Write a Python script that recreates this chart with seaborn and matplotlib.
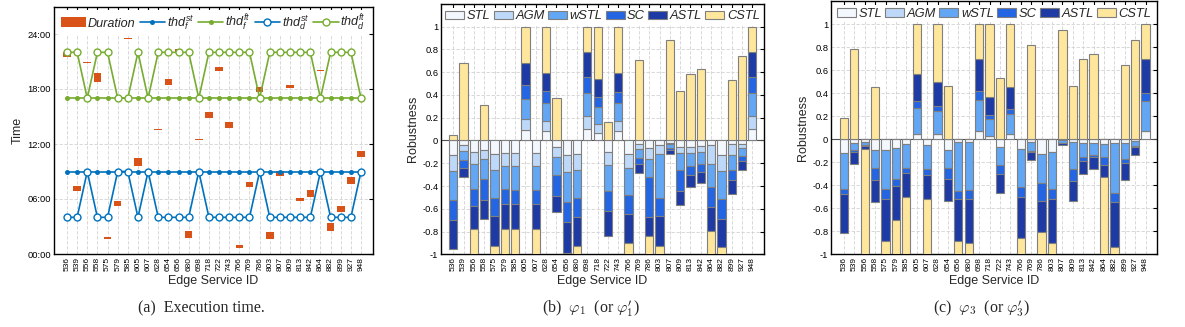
import numpy as np
import matplotlib
matplotlib.use("Agg")
import matplotlib.pyplot as plt
import seaborn as sns
from matplotlib.patches import Patch
from matplotlib.lines import Line2D
from matplotlib.ticker import FixedLocator, FuncFormatter

# ---------------------------------------------------------------- data
service_ids = ["536", "539", "556", "558", "575", "579", "585", "605", "607", "628",
               "654", "656", "680", "698", "718", "722", "743", "766", "769", "786",
               "803", "807", "809", "813", "842", "864", "882", "899", "927", "948"]

# thresholds (hours of day)
thd_f_st = [9, 9, 9, 9, 9, 9, 9, 9, 9, 9, 9, 9, 9, 9, 9,
            9, 9, 9, 9, 9, 9, 9, 9, 9, 9, 9, 9, 9, 9, 9]
thd_f_ft = [17, 17, 17, 17, 17, 17, 17, 17, 17, 17, 17, 17, 17, 17, 17,
            17, 17, 17, 17, 17, 17, 17, 17, 17, 17, 17, 17, 17, 17, 17]
thd_d_st = [4, 4, 9, 4, 4, 9, 9, 4, 9, 4, 4, 4, 4, 9, 4,
            4, 4, 4, 4, 9, 4, 4, 4, 4, 4, 9, 4, 4, 4, 9]
thd_d_ft = [22, 22, 17, 22, 22, 17, 17, 22, 17, 22, 22, 22, 22, 17, 22,
            22, 22, 22, 22, 17, 22, 22, 22, 22, 22, 17, 22, 22, 22, 17]

# execution intervals (start hour, end hour)
dur_start = [21.46, 6.87, 20.85, 18.80, 1.60, 5.20, 23.50, 9.60, 23.86, 13.50,
             18.47, 21.90, 1.75, 12.47, 14.80, 20.00, 13.75, 0.65, 7.30, 17.70,
             1.64, 8.47, 18.15, 5.78, 6.25, 19.93, 2.55, 4.55, 7.67, 10.55]
dur_end = [22.07, 7.45, 20.97, 19.70, 1.82, 5.81, 23.60, 10.44, 24.20, 13.60,
           19.05, 22.36, 2.50, 12.55, 15.46, 20.36, 14.36, 0.98, 7.85, 18.20,
           2.44, 9.09, 18.47, 6.15, 6.95, 20.10, 3.42, 5.27, 8.36, 11.24]

# robustness contributions, phi_1
p1_STL = [-0.130, -0.044, -0.105, -0.082, -0.123, -0.109, -0.114, 0.096, -0.114, 0.079,
          -0.060, -0.130, -0.120, 0.105, 0.070, -0.105, 0.079, -0.120, -0.030, -0.070,
          -0.040, -0.020, -0.056, -0.056, -0.050, -0.041, -0.126, -0.035, -0.032, 0.105]
p1_AGM = [-0.137, -0.046, -0.103, -0.085, -0.132, -0.114, -0.106, 0.097, -0.106, 0.088,
          -0.084, -0.146, -0.135, 0.111, 0.079, -0.112, 0.088, -0.126, -0.045, -0.092,
          -0.080, -0.015, -0.058, -0.052, -0.050, -0.170, -0.141, -0.094, -0.038, 0.111]
p1_wSTL = [-0.258, -0.083, -0.217, -0.170, -0.249, -0.205, -0.217, 0.173, -0.217, 0.158,
           -0.161, -0.264, -0.249, 0.202, 0.141, -0.226, 0.158, -0.237, -0.083, -0.158,
           -0.384, -0.030, -0.144, -0.118, -0.111, -0.202, -0.246, -0.129, -0.068, 0.202]
p1_SC = [-0.173, -0.067, -0.150, -0.185, -0.158, -0.132, -0.120, 0.123, -0.120, 0.111,
         -0.182, -0.175, -0.167, 0.141, 0.093, -0.175, 0.102, -0.167, -0.053, -0.351,
         -0.158, -0.020, -0.182, -0.073, -0.065, -0.170, -0.176, -0.085, -0.041, 0.141]
p1_ASTL = [-0.257, -0.080, -0.207, -0.170, -0.261, -0.222, -0.225, 0.193, -0.225, 0.161,
           -0.140, -0.275, -0.252, 0.220, 0.153, -0.217, 0.170, -0.255, -0.079, -0.167,
           -0.264, -0.035, -0.127, -0.114, -0.099, -0.208, -0.251, -0.129, -0.076, 0.220]
p1_CSTL = [0.045, 0.680, -0.218, 0.308, -0.077, -0.218, -0.218, 0.318, -0.218, 0.403,
           0.373, -0.010, -0.077, 0.221, 0.464, 0.165, 0.403, -0.095, 0.710, -0.162,
           -0.074, 0.880, 0.433, 0.587, 0.625, -0.209, -0.060, 0.528, 0.745, 0.221]

# robustness contributions, phi_3
p3_STL = [-0.122, -0.030, -0.020, -0.093, -0.093, -0.075, -0.043, 0.049, -0.050, 0.043,
          -0.090, -0.020, -0.020, 0.070, 0.026, -0.070, 0.043, -0.086, -0.020, -0.130,
          -0.110, -0.010, -0.026, -0.030, -0.030, -0.043, -0.030, -0.035, -0.015, 0.070]
p3_AGM = [0, 0, 0, 0, 0, 0, 0, 0, 0, 0, 0, 0, 0, 0, 0,
          0, 0, 0, 0, 0, 0, 0, 0, 0, 0, 0, 0, 0, 0, 0]
p3_wSTL = [-0.310, -0.065, -0.030, -0.159, -0.342, -0.273, -0.209, 0.221, -0.210, 0.203,
           -0.160, -0.430, -0.421, 0.272, 0.148, -0.153, 0.174, -0.331, -0.085, -0.253,
           -0.325, -0.020, -0.235, -0.121, -0.110, -0.114, -0.434, -0.139, -0.045, 0.266]
p3_SC = [-0.046, -0.015, -0.010, -0.105, -0.087, -0.058, -0.044, 0.063, -0.050, 0.044,
         -0.095, -0.072, -0.081, 0.078, 0.037, -0.081, 0.046, -0.087, -0.005, -0.151,
         -0.087, -0.005, -0.099, -0.038, -0.015, -0.063, -0.084, -0.035, -0.010, 0.069]
p3_ASTL = [-0.339, -0.105, -0.027, -0.190, -0.362, -0.298, -0.208, 0.238, -0.210, 0.206,
           -0.194, -0.362, -0.382, 0.281, 0.154, -0.166, 0.189, -0.357, -0.073, -0.275,
           -0.377, -0.017, -0.180, -0.113, -0.105, -0.110, -0.391, -0.145, -0.067, 0.296]
p3_CSTL = [0.183, 0.785, -0.913, 0.453, -0.116, -0.296, -0.496, 0.429, -0.480, 0.504,
           0.461, -0.116, -0.096, 0.299, 0.635, 0.530, 0.548, -0.139, 0.817, -0.191,
           -0.101, 0.948, 0.460, 0.698, 0.740, -0.670, -0.061, 0.646, 0.863, 0.299]

methods = ["STL", "AGM", "wSTL", "SC", "ASTL", "CSTL"]
phi1 = dict(zip(methods, [p1_STL, p1_AGM, p1_wSTL, p1_SC, p1_ASTL, p1_CSTL]))
phi3 = dict(zip(methods, [p3_STL, p3_AGM, p3_wSTL, p3_SC, p3_ASTL, p3_CSTL]))

# ---------------------------------------------------------------- style
sns.set_style("white")
plt.rcParams["font.family"] = ["Liberation Sans", "DejaVu Sans"]
plt.rcParams["mathtext.fontset"] = "custom"
plt.rcParams["mathtext.rm"] = "Liberation Sans"
plt.rcParams["mathtext.it"] = "Liberation Sans:italic"
plt.rcParams["axes.unicode_minus"] = False

BLUE, GREEN, ORANGE = "#0072BD", "#77AC30", "#D95319"
method_colors = {"STL": "#F3F8FE", "AGM": "#BDD8F8", "wSTL": "#62A6F4",
                 "SC": "#2465E3", "ASTL": "#1E3BA5", "CSTL": "#FEE79C"}
EDGE = "#7F7F7F"
n = len(service_ids)
pos = np.arange(n)

W, H = 1185, 327
fig = plt.figure(figsize=(W / 100, H / 100), dpi=100)


def box(l, t, r, b):
    return [l / W, 1 - b / H, (r - l) / W, (b - t) / H]


def style_axes(ax, xlim):
    ax.set_xlim(*xlim)
    ax.set_xticks(pos)
    ax.set_xticklabels(service_ids, rotation=90, fontsize=6.0)
    ax.tick_params(direction="in", top=True, right=True, length=3, width=0.8,
                   pad=2, colors="black")
    ax.tick_params(axis="y", labelsize=6.7)
    for s in ax.spines.values():
        s.set_linewidth(1.0)
        s.set_color("black")
    ax.set_axisbelow(True)
    ax.grid(True, linestyle=(0, (4, 2)), color="#d2d2d2", linewidth=0.6)
    ax.set_xlabel("Edge Service ID", fontsize=9, labelpad=3)


# ---------------------------------------------------------------- (a)
ax = fig.add_axes(box(54, 6.5, 373, 254))
dur_len = np.array(dur_end) - np.array(dur_start)
sns.barplot(x=service_ids, y=dur_len, bottom=dur_start, color=ORANGE, saturation=1,
            width=0.75, errorbar=None, linewidth=0, ax=ax, zorder=3)
sns.lineplot(x=pos, y=thd_f_st, color=BLUE, marker="o", markersize=3.6,
             markeredgewidth=0, linewidth=1.2, ax=ax, zorder=4)
sns.lineplot(x=pos, y=thd_f_ft, color=GREEN, marker="o", markersize=3.6,
             markeredgewidth=0, linewidth=1.2, ax=ax, zorder=4)
sns.lineplot(x=pos, y=thd_d_st, color=BLUE, marker="o", markersize=5,
             markerfacecolor="white", markeredgecolor=BLUE, markeredgewidth=1.0,
             linewidth=1.2, ax=ax, zorder=5)
sns.lineplot(x=pos, y=thd_d_ft, color=GREEN, marker="o", markersize=5,
             markerfacecolor="white", markeredgecolor=GREEN, markeredgewidth=1.0,
             linewidth=1.2, ax=ax, zorder=5)
style_axes(ax, (-1.28, 30.18))
ax.set_ylim(0, 27)
ax.yaxis.set_major_locator(FixedLocator([0, 6, 12, 18, 24]))
ax.yaxis.set_major_formatter(FuncFormatter(lambda v, p: "%02d:00" % int(v)))
ax.set_ylabel("Time", fontsize=9, labelpad=3)
handles = [
    Patch(facecolor=ORANGE, edgecolor="none", label="Duration"),
    Line2D([], [], color=BLUE, marker="o", ms=3.6, mew=0, lw=1.2, label=r"$thd_f^{st}$"),
    Line2D([], [], color=GREEN, marker="o", ms=3.6, mew=0, lw=1.2, label=r"$thd_f^{ft}$"),
    Line2D([], [], color=BLUE, marker="o", ms=5, mfc="white", mew=1.0, lw=1.2,
           label=r"$thd_d^{st}$"),
    Line2D([], [], color=GREEN, marker="o", ms=5, mfc="white", mew=1.0, lw=1.2,
           label=r"$thd_d^{ft}$"),
]
leg = ax.legend(handles=handles, loc="upper center", bbox_to_anchor=(0.5, 1.0), ncol=5,
                frameon=True, facecolor="white", edgecolor="none", framealpha=1,
                prop={"style": "italic", "size": 9.1}, handlelength=2.0,
                handleheight=0.8, columnspacing=0.3, handletextpad=0.15,
                borderpad=0.2, borderaxespad=0.3)
leg.set_zorder(10)


# ---------------------------------------------------------------- (b), (c)
def stacked_panel(ax, contrib, xlim):
    pos_base = np.zeros(n)
    neg_base = np.zeros(n)
    for m in methods:
        v = np.asarray(contrib[m], dtype=float)
        bottom = np.where(v >= 0, pos_base, neg_base)
        sns.barplot(x=service_ids, y=v, bottom=bottom, color=method_colors[m],
                    saturation=1, width=0.8, errorbar=None, edgecolor=EDGE,
                    linewidth=0.8, ax=ax, zorder=3)
        pos_base = pos_base + np.clip(v, 0, None)
        neg_base = neg_base + np.clip(v, None, 0)
    ax.axhline(0, color="#505050", linewidth=0.8, zorder=2.5)
    style_axes(ax, xlim)
    ax.set_ylim(-1, 1.2)
    ticks = [-1, -0.8, -0.6, -0.4, -0.2, 0, 0.2, 0.4, 0.6, 0.8, 1]
    ax.yaxis.set_major_locator(FixedLocator(ticks))
    ax.yaxis.set_major_formatter(FuncFormatter(lambda v, p: "%g" % round(v, 1)))
    ax.set_ylabel("Robustness", fontsize=9, labelpad=2)
    hs = [Patch(facecolor=method_colors[m], edgecolor=EDGE, linewidth=0.8, label=m)
          for m in methods]
    lg = ax.legend(handles=hs, loc="upper center", bbox_to_anchor=(0.5, 1.0), ncol=6,
                   frameon=True, facecolor="white", edgecolor="none", framealpha=1,
                   prop={"style": "italic", "size": 9.3}, handlelength=1.47,
                   handleheight=0.65, columnspacing=0.25, handletextpad=0.2,
                   borderpad=0.2, borderaxespad=0.3)
    lg.set_zorder(10)


ax_b = fig.add_axes(box(441, 3.9, 764, 254.3))
stacked_panel(ax_b, phi1, (-1.19, 30.13))
ax_c = fig.add_axes(box(831, 1.3, 1157, 254.3))
stacked_panel(ax_c, phi3, (-1.24, 30.1))

# ---------------------------------------------------------------- captions
cap = dict(fontsize=11.5, family=["Liberation Serif", "DejaVu Serif"],
           ha="center", va="center", math_fontfamily="cm")
fig.text(201 / W, 1 - 308 / H, "(a)  Execution time.", **cap)
fig.text(591 / W, 1 - 308 / H, r"(b)  $\varphi_1$  (or $\varphi_1'$)", **cap)
fig.text(982 / W, 1 - 308 / H, r"(c)  $\varphi_3$  (or $\varphi_3'$)", **cap)

fig.savefig("out.png", dpi=100)
